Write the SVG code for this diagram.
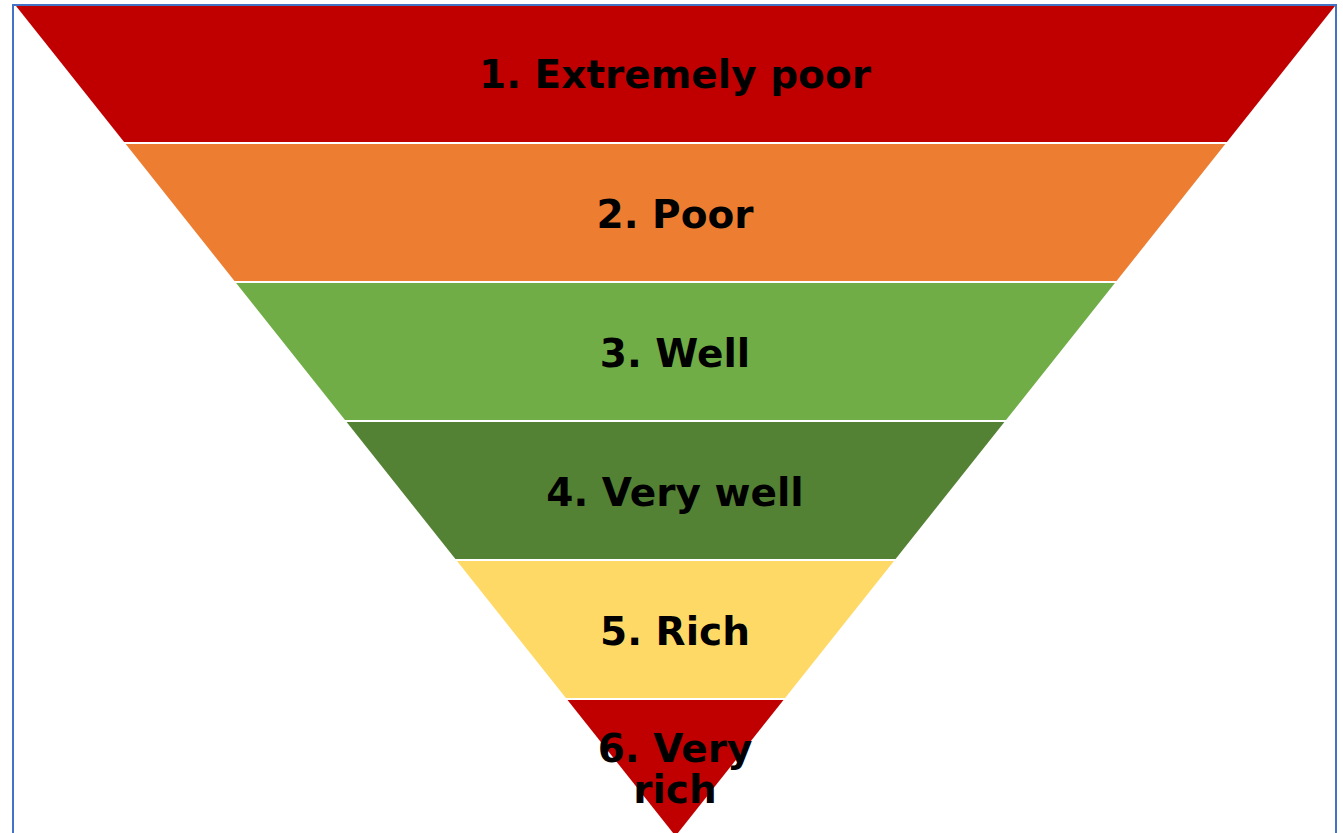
<svg xmlns="http://www.w3.org/2000/svg" width="1343" height="833" viewBox="0 0 1343 833">
  <style>
    .lbl { font-family: "DejaVu Sans", "Liberation Sans", sans-serif; font-weight: bold; font-size: 39px; fill: #000; text-anchor: middle; }
    .frame { fill: none; stroke: #4472C4; stroke-width: 2; }
  </style>
  <rect width="1343" height="833" fill="#ffffff"/>
  <g id="frame">
    <path class="frame" d="M13,845 V5 H1336 V845"/>
  </g>
  <g id="band1">
    <polygon points="16,6 1335,6 1226.9,142 124.1,142" fill="#C00000"/>
    <text class="lbl" x="675" y="88">1. Extremely poor</text>
  </g>
  <g id="band2">
    <polygon points="125.7,144 1225.3,144 1116.5,281 234.5,281" fill="#ED7D31"/>
    <text class="lbl" x="675" y="228">2. Poor</text>
  </g>
  <g id="band3">
    <polygon points="236.1,283 1114.9,283 1006,420 345,420" fill="#70AD47"/>
    <text class="lbl" x="675" y="367">3. Well</text>
  </g>
  <g id="band4">
    <polygon points="346.6,422 1004.4,422 895.6,559 455.4,559" fill="#548235"/>
    <text class="lbl" x="675" y="506">4. Very well</text>
  </g>
  <g id="band5">
    <polygon points="457,561 894,561 785.1,698 565.9,698" fill="#FFD966"/>
    <text class="lbl" x="675" y="645">5. Rich</text>
  </g>
  <g id="band6">
    <polygon points="567.5,700 783.5,700 675.5,836" fill="#C00000"/>
    <text class="lbl" x="675" y="762">6. Very</text>
    <text class="lbl" x="675" y="803">rich</text>
  </g>
</svg>
